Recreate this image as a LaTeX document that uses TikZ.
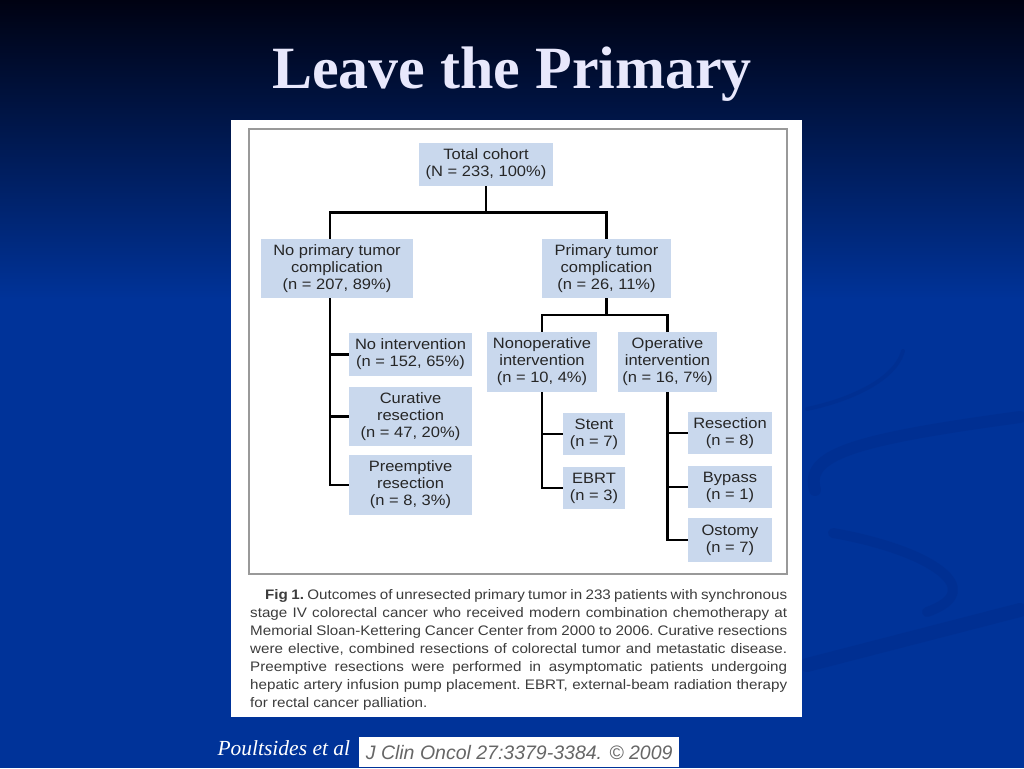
\documentclass[tikz,border=0pt]{standalone}
\usepackage{fontspec}
\usetikzlibrary{positioning, calc}
\setmainfont{Liberation Serif}
\newfontfamily\boxfont[FakeStretch=1.1]{Liberation Sans}
\newfontfamily\citefont{Liberation Sans}
\definecolor{slideblue}{RGB}{0,51,153}
\definecolor{slidetop}{RGB}{0,2,18}
\definecolor{swirl}{RGB}{0,44,138}
\definecolor{boxblue}{RGB}{201,216,237}
\definecolor{titlecol}{RGB}{232,232,252}
\definecolor{captext}{RGB}{60,60,60}

\begin{document}
\begin{tikzpicture}[x=1pt, y=-1pt,
    box/.style={fill=boxblue, inner sep=0pt, align=center, text=black!85,
        font=\boxfont\fontsize{15}{17}\selectfont},
    link/.style={line width=2.7pt, black},
]
\useasboundingbox (0,0) rectangle (1024,768);

% slide background
\fill[slideblue] (0,0) rectangle (1024,768);
\shade[top color=slidetop, bottom color=slideblue] (0,0) rectangle (1024,300);
\begin{scope}[swirl, line cap=round, opacity=0.45]
\draw[line width=4pt] (807,409) .. controls (850,400) and (895,380) .. (903,351);
\draw[line width=12pt] (815,490) .. controls (805,455) and (850,440) .. (1020,417);
\draw[line width=10pt] (833,533) .. controls (930,550) and (990,590) .. (927,612);
\draw[line width=14pt] (807,665) -- (1020,610);
\end{scope}

% title
\node[anchor=base, text=titlecol, font=\bfseries\fontsize{60}{62}\selectfont] (title) at (512,88) {Leave the Primary};

% figure panel
\fill[white] (231,120) rectangle (802,717);
\draw[black!40, line width=1.5pt] (249,129) rectangle (787,574);

% level 1
\node[box, minimum width=134, minimum height=43] (total) at (486,164.5) {Total cohort\\(N = 233, 100\%)};
\node[box, minimum width=152, minimum height=59] (noprim) at (337,268.5) {No primary tumor\\complication\\(n = 207, 89\%)};
\node[box, minimum width=129, minimum height=59] (prim) at (606.5,268.5) {Primary tumor\\complication\\(n = 26, 11\%)};

% no complication
\node[box, minimum width=123, minimum height=43] (noint) at (410.5,354.5) {No intervention\\(n = 152, 65\%)};
\node[box, minimum width=123, minimum height=59] (curative) at (410.5,416.5) {Curative\\resection\\(n = 47, 20\%)};
\node[box, minimum width=123, minimum height=60] (preempt) at (410.5,485) {Preemptive\\resection\\(n = 8, 3\%)};

% complication
\node[box, minimum width=110, minimum height=60] (nonop) at (542,362) {Nonoperative\\intervention\\(n = 10, 4\%)};
\node[box, minimum width=99, minimum height=60] (oper) at (667.5,362) {Operative\\intervention\\(n = 16, 7\%)};
\node[box, minimum width=62, minimum height=42] (stent) at (594,434) {Stent\\(n = 7)};
\node[box, minimum width=62, minimum height=42] (ebrt) at (594,488) {EBRT\\(n = 3)};
\node[box, minimum width=84, minimum height=42] (resect) at (730,433) {Resection\\(n = 8)};
\node[box, minimum width=84, minimum height=42] (bypass) at (730,487) {Bypass\\(n = 1)};
\node[box, minimum width=84, minimum height=44] (ostomy) at (730,540) {Ostomy\\(n = 7)};

% connectors
\coordinate (split) at ($(total.south)!0.5!(prim.north -| total.south)$);
\coordinate (ltrunk) at ([xshift=-7pt]noprim.south);
\draw[link] (total.south) -- (split) -| ([xshift=-7pt]noprim.north);
\draw[link] (split) -| (prim.north);
\draw[link] (ltrunk) |- (preempt.west);
\draw[link] (ltrunk |- noint.west) -- (noint.west);
\draw[link] (ltrunk |- curative.west) -- (curative.west);

\coordinate (rsplit) at ($(prim.south)!0.5!(oper.north -| prim.south)$);
\draw[link] (prim.south) -- (rsplit) -| (nonop.north);
\draw[link] (rsplit) -| (oper.north);
\draw[link] (nonop.south) |- (ebrt.west);
\draw[link] (nonop.south |- stent.west) -- (stent.west);
\draw[link] (oper.south) |- (ostomy.west);
\draw[link] (oper.south |- resect.west) -- (resect.west);
\draw[link] (oper.south |- bypass.west) -- (bypass.west);

% caption
\node[anchor=north west, text width=537pt, inner sep=0pt, align=justify, text=captext,
    font=\boxfont\fontsize{13.8}{18}\selectfont\frenchspacing] (caption) at (250,589) {%
\hspace*{15pt}\textbf{Fig 1.} Outcomes of unresected primary tumor in 233 patients with synchronous\linebreak
stage IV colorectal cancer who received modern combination chemotherapy at\linebreak
Memorial Sloan-Kettering Cancer Center from 2000 to 2006. Curative resections\linebreak
were elective, combined resections of colorectal tumor and metastatic disease.\linebreak
Preemptive resections were performed in asymptomatic patients undergoing\linebreak
hepatic artery infusion pump placement. EBRT, external-beam radiation therapy\linebreak
for rectal cancer palliation.};

% reference line
\node[anchor=base west, text=white, font=\itshape\fontsize{21.5}{24}\selectfont] (authors) at (214,755) {Poultsides et al};
\node[anchor=north west, fill=white, minimum width=320, minimum height=30, inner sep=0pt,
    text=black!60, font=\citefont\itshape\fontsize{19.5}{22}\selectfont] (journal) at (359,737) {J Clin Oncol 27:3379-3384. \textcopyright{} 2009};
\end{tikzpicture}
\end{document}
